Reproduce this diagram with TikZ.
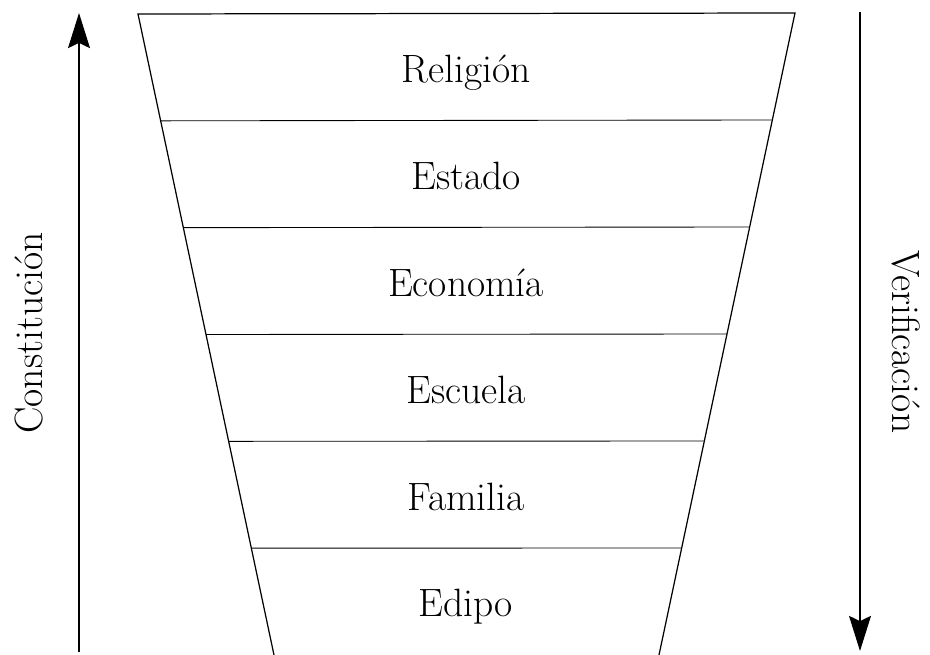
\documentclass[tikz,border=0pt]{standalone}
\usepackage{tikz}
\usetikzlibrary{calc,arrows.meta,positioning}

\tikzset{
	nivel/.style={font=\fontsize{22.5}{27}\selectfont,anchor=base},
	lado/.style={font=\fontsize{22.5}{27}\selectfont},
	eje/.style={-{Stealth[length=20pt,width=12.5pt,inset=3pt]},line width=0.7pt},
	borde/.style={line width=0.7pt},
	corte/.style={line width=0.5pt}
}

\begin{document}
\begin{tikzpicture}[x=0.02cm,y=-0.02cm]
	\useasboundingbox (0,0) rectangle (930,655);
	% embudo
	\coordinate (tl) at (138,14);
	\coordinate (tr) at (795,13);
	\coordinate (bl) at (274,655);
	\coordinate (br) at (659,655);
	\draw[borde] (bl)--(tl)--(tr)--(br);
	\foreach \k in {1,...,5}
		\draw[corte] ($(tl)!\k/6!(bl)$) -- ($(tr)!\k/6!(br)$);
	\foreach \txt [count=\k] in {Religión,Estado,Economía,Escuela,Familia,Edipo}
		\node[nivel] (n\k) at (466,{14+(\k-0.5)*106.8+15.5}) {\txt};
	% flechas
	\coordinate (c0) at (79,652);
	\coordinate (c1) at (79,13);
	\draw[eje] (c0)--(c1);
	\node[lado,rotate=90] (constitucion) at (29,333) {Constitución};
	\coordinate (v0) at (860,12);
	\coordinate (v1) at (860,651);
	\draw[eje] (v0)--(v1);
	\node[lado,rotate=-90] (verificacion) at (906,342) {Verificación};
\end{tikzpicture}
\end{document}
